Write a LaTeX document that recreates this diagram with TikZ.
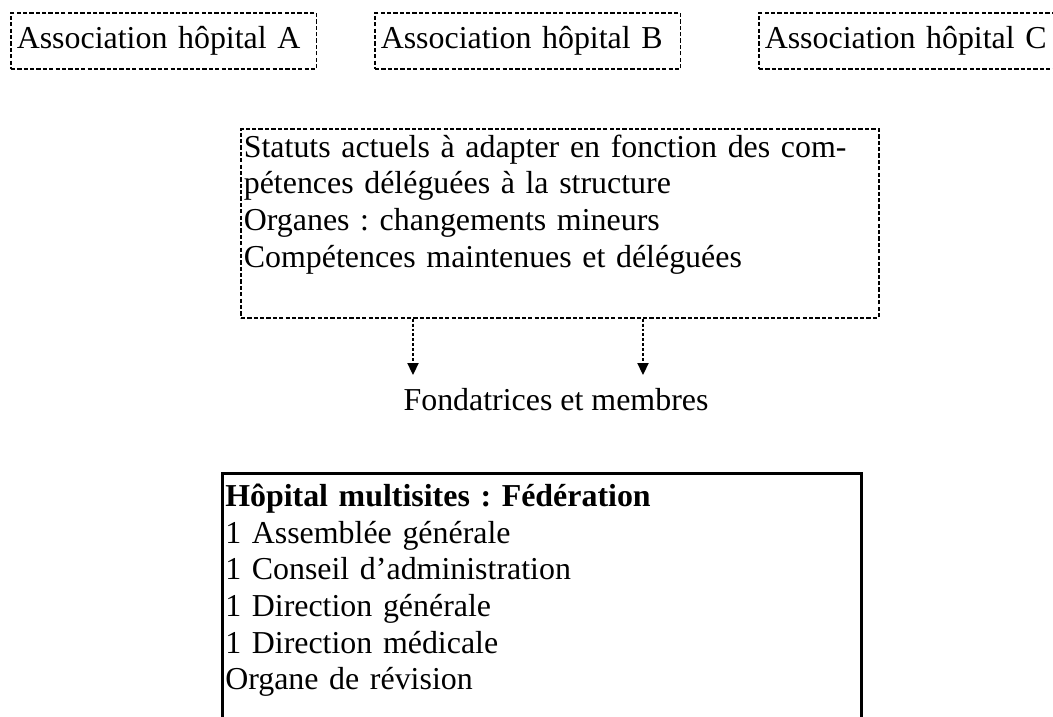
\documentclass[tikz,border=0pt]{standalone}
\usepackage{fontspec}
\setmainfont{Liberation Serif}
\frenchspacing
\usetikzlibrary{arrows.meta}
\tikzset{
  box/.style={anchor=north west, align=left, font=\fontsize{12}{13.8}\selectfont},
  dashbox/.style={box, draw, line width=0.7pt, dash pattern=on 1.6pt off 0.8pt},
  fullbox/.style={box, draw, line width=1pt},
  assoc/.style={dashbox, text width=110.5pt, inner xsep=2.2pt, inner ysep=0pt,
                minimum height=21.1pt, text height=9.66pt, text depth=4.14pt},
  dasharrow/.style={-{Triangle[length=4.5pt, width=4.2pt]}, line width=0.55pt,
                    dash pattern=on 1.1pt off 0.75pt},
}

\begin{document}
\begin{tikzpicture}[x=0.376pt, y=-0.376pt]
  \useasboundingbox (0,0) rectangle (1053,717);
  \clip (0,0) rectangle (1053,717);
  \node[assoc] (assocA) at (10,12)  {Association hôpital A};
  \node[assoc] (assocB) at (374,12) {Association hôpital B};
  \node[assoc] (assocC) at (758,12) {Association hôpital C};
  \node[dashbox, text width=237.6pt, inner xsep=1.1pt, inner ysep=1pt] (statuts) at (240,128)
    {\strut\makebox[\hsize][s]{Statuts actuels à adapter en fonction des com-}\\
     \strut pétences déléguées à la structure\\
     \strut Organes : changements mineurs\\
     \strut Compétences maintenues et déléguées\\
     \strut};
  \node[anchor=north, font=\fontsize{12}{13.8}\selectfont, inner xsep=0pt, inner ysep=3.4pt,
        text height=9.66pt, text depth=4.14pt] (fond) at (556,375) {Fondatrices et membres};
  \coordinate (armL) at (413,0);
  \coordinate (armR) at (643,0);
  \draw[dasharrow] (statuts.south -| armL) -- (fond.north -| armL);
  \draw[dasharrow] (statuts.south -| armR) -- (fond.north -| armR);
  \node[fullbox, text width=238.1pt, inner xsep=1.1pt, inner ysep=2.75pt] (hopital) at (221,472)
    {\strut\textbf{Hôpital multisites : Fédération}\\
     \strut 1 Assemblée générale\\
     \strut 1 Conseil d’administration\\
     \strut 1 Direction générale\\
     \strut 1 Direction médicale\\
     \strut Organe de révision\\
     \strut};
\end{tikzpicture}
\end{document}
